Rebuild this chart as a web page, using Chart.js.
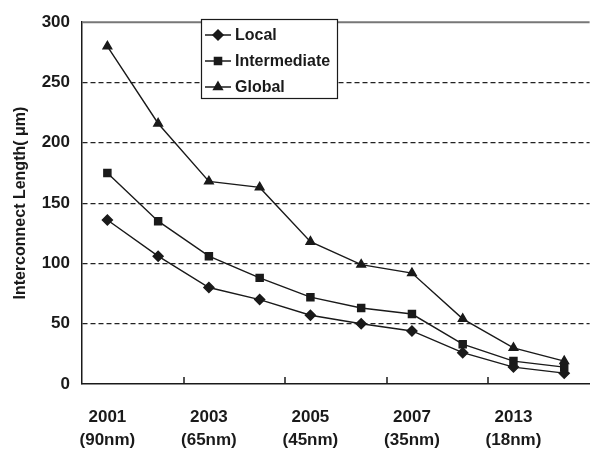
<!DOCTYPE html>
<html>
<head>
<meta charset="utf-8">
<script src="https://cdn.jsdelivr.net/npm/chart.js@4.4.1/dist/chart.umd.min.js"></script>
<style>
  html, body { margin: 0; padding: 0; background: #fff; }
  #wrap { width: 596px; height: 455px; position: relative; }
</style>
</head>
<body>
<div id="wrap"><canvas id="chart"></canvas></div>
<script>
// data
const categories = ["p1", "p2", "p3", "p4", "p5", "p6", "p7", "p8", "p9", "p10"];
const tickLabels = [
    ["2001", "(90nm)"], "", ["2003", "(65nm)"], "", ["2005", "(45nm)"], "",
    ["2007", "(35nm)"], "", ["2013", "(18nm)"], ""
];
const localLen = [136, 106, 80, 70, 57, 50, 44, 26, 14, 9];
const intermediateLen = [175, 135, 106, 88, 72, 63, 58, 33, 19, 14];
const globalLen = [280, 216, 168, 163, 118, 99, 92, 54, 30, 19];

const FONT = "'Liberation Sans', Arial, sans-serif";
const INK = "#1a1a1a";

// legend box drawn inside the plot, plus the inward tick marks and top frame
const extras = {
    id: "extras",
    afterDraw(chart) {
        const c = chart.ctx;
        const area = chart.chartArea;
        const x = chart.scales.x;
        c.save();
        // top frame line
        c.strokeStyle = "#777";
        c.lineWidth = 2;
        c.beginPath();
        c.moveTo(area.left, area.top);
        c.lineTo(area.right, area.top);
        c.stroke();
        // inward ticks between category pairs
        c.strokeStyle = INK;
        c.lineWidth = 1.5;
        for (let i = 1; i < categories.length - 1; i += 2) {
            const px = Math.round((x.getPixelForValue(i) + x.getPixelForValue(i + 1)) / 2);
            c.beginPath();
            c.moveTo(px, area.bottom);
            c.lineTo(px, area.bottom - 7);
            c.stroke();
        }
        // legend
        const bx = 201, by = 19, bw = 136, bh = 79;
        c.fillStyle = "#fff";
        c.fillRect(bx, by, bw, bh);
        c.strokeStyle = INK;
        c.lineWidth = 1.2;
        c.strokeRect(bx + 0.5, by + 0.5, bw, bh);
        chart.data.datasets.forEach((ds, i) => {
            const cy = 35 + i * 26;
            c.strokeStyle = INK;
            c.fillStyle = INK;
            c.lineWidth = 1.5;
            c.beginPath();
            c.moveTo(205, cy);
            c.lineTo(231, cy);
            c.stroke();
            Chart.helpers.drawPoint(c, {
                pointStyle: ds.pointStyle, radius: ds.pointRadius, borderWidth: 1
            }, 218, cy);
            c.fillStyle = INK;
            c.font = "bold 16px " + FONT;
            c.textBaseline = "middle";
            c.textAlign = "left";
            c.fillText(ds.label, 235, cy + 1);
        });
        c.restore();
    }
};

function series(label, data, style) {
    return {
        label: label,
        data: data,
        borderColor: INK,
        backgroundColor: INK,
        pointBackgroundColor: INK,
        pointBorderColor: INK,
        borderWidth: 1.4,
        pointStyle: style,
        pointRadius: 5,
        tension: 0,
    };
}

const ctx = document.getElementById("chart").getContext("2d");
const chart = new Chart(ctx, {
    type: "line",
    data: {
        labels: categories,
        datasets: [
            series("Local", localLen, "rectRot"),
            series("Intermediate", intermediateLen, "rect"),
            series("Global", globalLen, "triangle"),
        ],
    },
    options: {
        responsive: true,
        maintainAspectRatio: false,
        animation: false,
        layout: { padding: { top: 15, right: 1, left: 0, bottom: 0 } },
        plugins: {
            legend: { display: false },
            tooltip: { enabled: false },
        },
        scales: {
            x: {
                offset: true,
                afterFit(scale) { scale.height = 71; },
                grid: { display: false },
                border: { display: true, color: INK, width: 1.5 },
                ticks: {
                    autoSkip: false,
                    maxRotation: 0,
                    padding: 14,
                    color: INK,
                    font: { family: FONT, size: 17, weight: "bold", lineHeight: 1.35 },
                    callback: (v, i) => tickLabels[i],
                },
            },
            y: {
                min: 0,
                max: 300,
                afterFit(scale) { scale.width = 82; },
                border: { display: true, color: INK, width: 1.5, dash: [5, 3] },
                grid: {
                    drawTicks: false,
                    lineWidth: 1.2,
                    color: (c) => (c.tick.value === 0 || c.tick.value === 300) ? "rgba(0,0,0,0)" : "#222",
                },
                ticks: {
                    stepSize: 50,
                    padding: 12,
                    color: INK,
                    font: { family: FONT, size: 17, weight: "bold" },
                },
                title: {
                    display: true,
                    text: "Interconnect Length( μm)",
                    color: INK,
                    padding: { top: 11, bottom: 0 },
                    font: { family: FONT, size: 16, weight: "bold" },
                },
            },
        },
    },
    plugins: [extras],
});
</script>
</body>
</html>
